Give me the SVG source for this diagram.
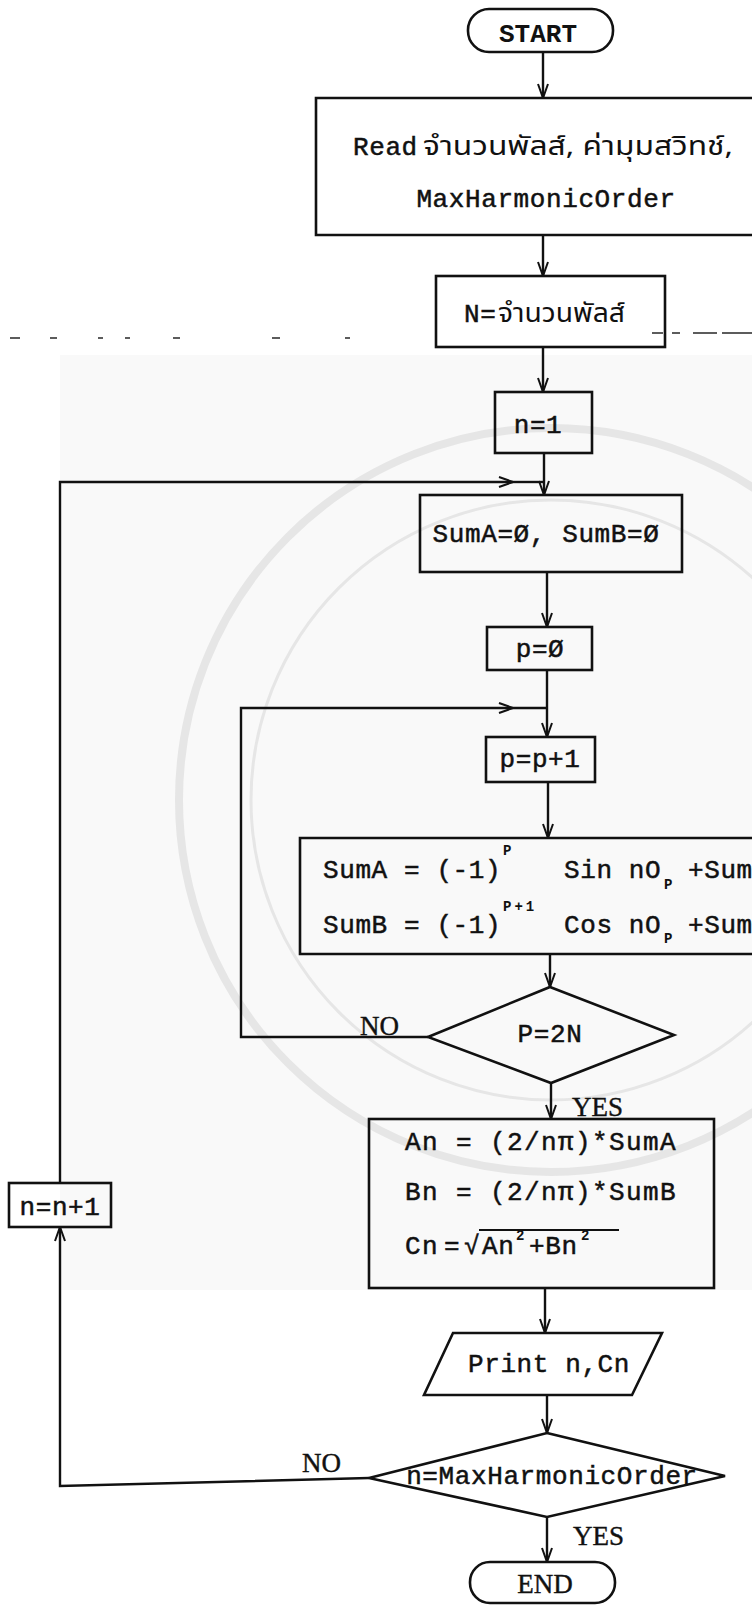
<svg xmlns="http://www.w3.org/2000/svg" width="752" height="1605" viewBox="0 0 752 1605">
<defs>
<style>
.bg{fill:#ffffff}
.tint{fill:#f9f9f9}
.wm{fill:none;stroke:#e6e6e6}
.shape{fill:none;stroke:#111;stroke-width:2.6;stroke-linejoin:miter}
.wire{fill:none;stroke:#111;stroke-width:2.4}
.scan{stroke:#333;stroke-width:1.6}
.t{font-family:"Liberation Mono","DejaVu Sans Mono",monospace;font-size:26px;fill:#111;stroke:#111;stroke-width:0.5px;letter-spacing:0.6px}
.tb{font-family:"Liberation Mono","DejaVu Sans Mono",monospace;font-size:26px;fill:#111;font-weight:bold}
.th{font-family:"Noto Sans Thai","Noto Sans","DejaVu Sans",sans-serif;font-size:26px;fill:#111}
.eq{font-family:"Liberation Mono","DejaVu Sans Mono",monospace;font-size:26px;fill:#111;stroke:#111;stroke-width:0.5px;letter-spacing:1.4px}
.sm{font-family:"Liberation Mono","DejaVu Sans Mono",monospace;font-size:14px;fill:#111;font-weight:bold}
.lbl{font-family:"Liberation Serif","DejaVu Serif",serif;font-size:27px;fill:#111;stroke:#111;stroke-width:0.4px}
.mid{text-anchor:middle}
</style>
<marker id="arr" markerUnits="userSpaceOnUse" markerWidth="16" markerHeight="12" viewBox="0 0 16 12" refX="15" refY="6" orient="auto">
<path d="M1,1 L15,6 L1,11" fill="none" stroke="#111" stroke-width="2"/>
</marker>
</defs>
<rect class="bg" x="0" y="0" width="752" height="1605"/>
<g id="background">
<rect class="tint" x="60" y="355" width="692" height="935"/>
<circle class="wm" cx="551" cy="800" r="372" stroke-width="8"/>
<circle class="wm" cx="551" cy="800" r="300" stroke-width="3"/>
</g>
<g id="scan-marks">
<line class="scan" x1="10" y1="338" x2="20" y2="338"/>
<line class="scan" x1="50" y1="338" x2="57" y2="338"/>
<line class="scan" x1="98" y1="338" x2="103" y2="338"/>
<line class="scan" x1="125" y1="338" x2="130" y2="338"/>
<line class="scan" x1="173" y1="338" x2="180" y2="338"/>
<line class="scan" x1="272" y1="338" x2="280" y2="338"/>
<line class="scan" x1="345" y1="338" x2="350" y2="338"/>
<line class="scan" x1="652" y1="333" x2="663" y2="333"/>
<line class="scan" x1="672" y1="333" x2="680" y2="333"/>
<line class="scan" x1="693" y1="333" x2="717" y2="333"/>
<line class="scan" x1="722" y1="333" x2="752" y2="333"/>
</g>
<g id="connectors">
<line class="wire" x1="543" y1="52" x2="543" y2="98" marker-end="url(#arr)"/>
<line class="wire" x1="543" y1="235" x2="543" y2="276" marker-end="url(#arr)"/>
<line class="wire" x1="543" y1="347" x2="543" y2="392" marker-end="url(#arr)"/>
<line class="wire" x1="544" y1="453" x2="544" y2="495" marker-end="url(#arr)"/>
<line class="wire" x1="547" y1="572" x2="547" y2="627" marker-end="url(#arr)"/>
<line class="wire" x1="547" y1="670" x2="547" y2="737" marker-end="url(#arr)"/>
<line class="wire" x1="548" y1="782" x2="548" y2="838" marker-end="url(#arr)"/>
<line class="wire" x1="550" y1="954" x2="550" y2="987" marker-end="url(#arr)"/>
<line class="wire" x1="551" y1="1083" x2="551" y2="1119" marker-end="url(#arr)"/>
<line class="wire" x1="545" y1="1288" x2="545" y2="1333" marker-end="url(#arr)"/>
<line class="wire" x1="547" y1="1395" x2="547" y2="1433" marker-end="url(#arr)"/>
<line class="wire" x1="547" y1="1517" x2="547" y2="1562" marker-end="url(#arr)"/>
<path class="wire" d="M428,1037 H241 V708 H513" marker-end="url(#arr)"/>
<line class="wire" x1="513" y1="708" x2="547" y2="708"/>
<path class="wire" d="M369,1478 L60,1486 V1227" marker-end="url(#arr)"/>
<path class="wire" d="M60,1183 V482 H513" marker-end="url(#arr)"/>
<line class="wire" x1="513" y1="482" x2="544" y2="482"/>
</g>
<g id="start">
<rect class="shape" x="468" y="9" width="145" height="43" rx="21" ry="21"/>
<text class="tb mid" x="538" y="42">START</text>
</g>
<g id="read">
<path class="shape" d="M752,98 H316 V235 H752"/>
<text class="t" x="353" y="155">Read</text>
<text class="th" x="423" y="155" textLength="310" lengthAdjust="spacingAndGlyphs">จำนวนพัลส์, ค่ามุมสวิทช์,</text>
<text class="t mid" x="546" y="207">MaxHarmonicOrder</text>
</g>
<g id="setN">
<rect class="shape" x="436" y="276" width="229" height="71"/>
<text class="t" x="464" y="322">N=</text>
<text class="th" x="498" y="322" textLength="127" lengthAdjust="spacingAndGlyphs">จำนวนพัลส์</text>
</g>
<g id="n1">
<rect class="shape" x="495" y="392" width="97" height="61"/>
<text class="t mid" x="538" y="433">n=1</text>
</g>
<g id="sumInit">
<rect class="shape" x="420" y="495" width="262" height="77"/>
<text class="t mid" x="546" y="542">SumA=Ø, SumB=Ø</text>
</g>
<g id="p0">
<rect class="shape" x="487" y="627" width="105" height="43"/>
<text class="t mid" x="540" y="657">p=Ø</text>
</g>
<g id="pInc">
<rect class="shape" x="486" y="737" width="109" height="45"/>
<text class="t mid" x="540" y="767">p=p+1</text>
</g>
<g id="sums">
<path class="shape" d="M752,838 H300 V954 H752"/>
<text class="t" x="323" y="878">SumA = (-1)</text>
<text class="sm" x="503" y="855">P</text>
<text class="t" x="564" y="878">Sin nO</text>
<text class="sm" x="664" y="889">P</text>
<text class="t" x="688" y="878">+Sum</text>
<text class="t" x="323" y="933">SumB = (-1)</text>
<text class="sm" x="503" y="911" letter-spacing="3">P+1</text>
<text class="t" x="564" y="933">Cos nO</text>
<text class="sm" x="664" y="943">P</text>
<text class="t" x="688" y="933">+Sum</text>
</g>
<g id="checkP">
<polygon class="shape" points="550,987 674,1035 551,1083 428,1037"/>
<text class="t mid" x="550" y="1042">P=2N</text>
<text class="lbl" x="360" y="1035">NO</text>
<text class="lbl" x="572" y="1116">YES</text>
</g>
<g id="coeffs">
<rect class="shape" x="369" y="1119" width="345" height="169"/>
<text class="eq" x="405" y="1150">An = (2/nπ)*SumA</text>
<text class="eq" x="405" y="1200">Bn = (2/nπ)*SumB</text>
<text class="eq" x="405" y="1254">Cn</text>
<text class="t" x="444" y="1254">=</text>
<text class="t" x="464" y="1254">√</text>
<line x1="479" y1="1230" x2="619" y2="1230" stroke="#111" stroke-width="2.2"/>
<text class="t" x="482" y="1254">An</text>
<text class="sm" x="516" y="1240">2</text>
<text class="t" x="529" y="1254">+Bn</text>
<text class="sm" x="581" y="1240">2</text>
</g>
<g id="nInc">
<rect class="shape" x="9" y="1183" width="102" height="44"/>
<text class="t mid" x="60" y="1215">n=n+1</text>
</g>
<g id="print">
<polygon class="shape" points="453,1333 662,1333 632,1395 424,1395"/>
<text class="t mid" x="549" y="1372">Print n,Cn</text>
</g>
<g id="checkN">
<polygon class="shape" points="547,1433 725,1476 547,1517 369,1478"/>
<text class="t mid" x="552" y="1484" letter-spacing="1">n=MaxHarmonicOrder</text>
<text class="lbl" x="302" y="1472">NO</text>
<text class="lbl" x="573" y="1545">YES</text>
</g>
<g id="end">
<rect class="shape" x="470" y="1562" width="145" height="41" rx="20" ry="20"/>
<text class="lbl mid" x="545" y="1593" font-size="23">END</text>
</g>
</svg>
